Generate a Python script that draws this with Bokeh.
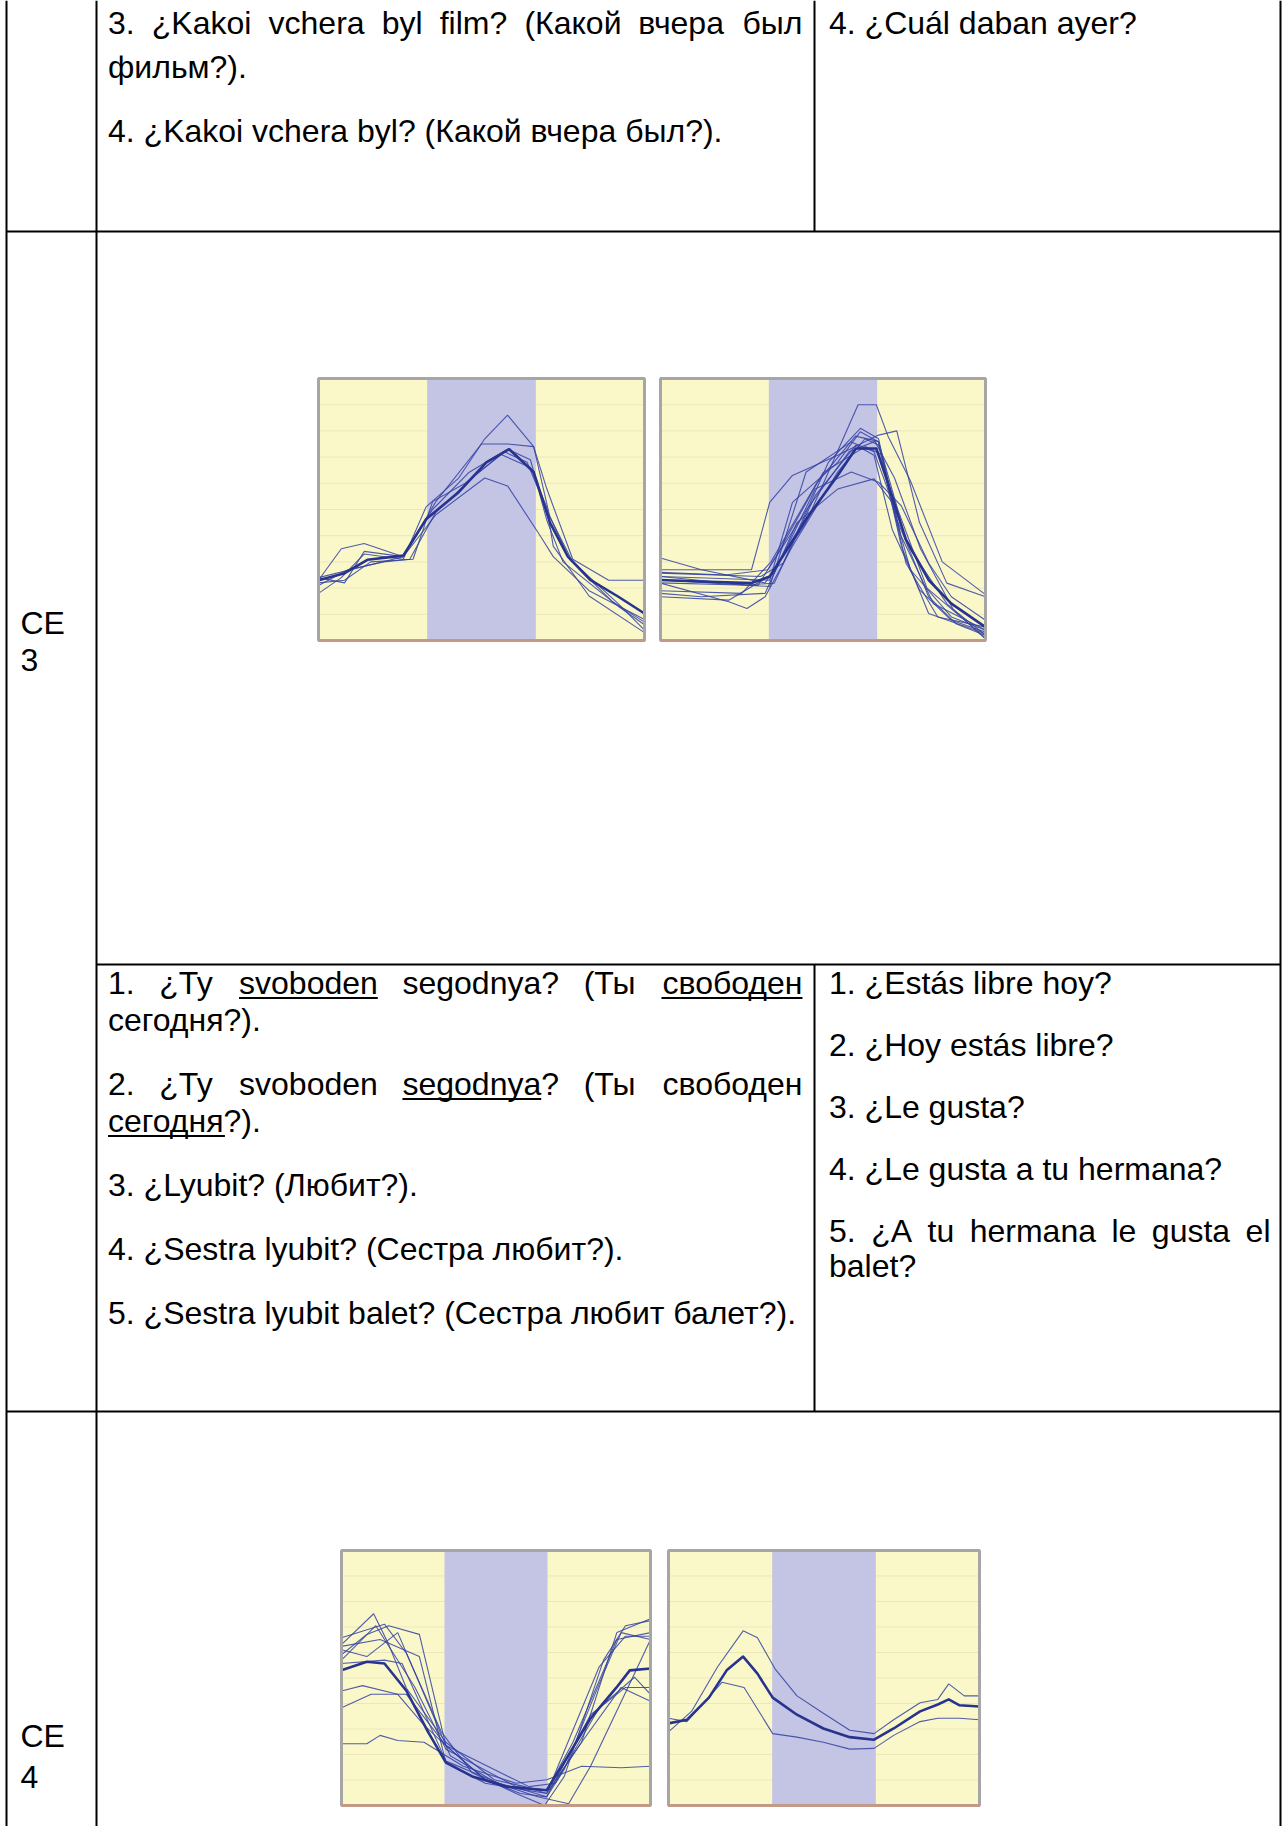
from bokeh.plotting import figure
from bokeh.models import Range1d, ColumnDataSource
from bokeh.core.properties import value
from bokeh.embed import file_html
from bokeh.resources import INLINE

# ------------------------------------------------------------------ text content
top_ru_lines = ["3. ¿Kakoi vchera byl film? (Какой вчера был",
                "фильм?).",
                "4. ¿Kakoi vchera byl? (Какой вчера был?)."]
top_ru_justify = [True, False, False]
top_es_lines = ["4. ¿Cuál daban ayer?"]

ce3_ru_lines = ["1. ¿Ty svoboden segodnya? (Ты свободен",
                "сегодня?).",
                "2. ¿Ty svoboden segodnya? (Ты свободен",
                "сегодня?).",
                "3. ¿Lyubit? (Любит?).",
                "4. ¿Sestra lyubit? (Сестра любит?).",
                "5. ¿Sestra lyubit balet? (Сестра любит балет?)."]
ce3_ru_justify = [True, False, True, False, False, False, False]
ce3_ru_underline = [[(2, "svoboden"), (5, "свободен")], [], [(3, "segodnya")],
                    [(0, "сегодня")], [], [], []]

ce3_es_lines = ["1. ¿Estás libre hoy?", "2. ¿Hoy estás libre?", "3. ¿Le gusta?",
                "4. ¿Le gusta a tu hermana?", "5. ¿A tu hermana le gusta el", "balet?"]
ce3_es_justify = [False, False, False, False, True, False]

row_labels_ce3 = ["CE", "3"]
row_labels_ce4 = ["CE", "4"]

# ------------------------------------------------------------------ chart data (x: % of time, y: % of range)
BAND = [100 / 3, 200 / 3]
GRID_LEVELS = [10, 20, 30, 40, 50, 60, 70, 80, 90]

ce3_left_mean_x = [0, 8, 15, 26, 33, 43, 51.5, 58.5, 66, 71, 76.5, 83.5, 92, 100]
ce3_left_mean_y = [23, 25.7, 30.8, 32.4, 46.3, 56.6, 68, 73, 64.3, 45, 32, 23, 16.7, 10.3]
ce3_left_thin_x = [
    [0, 7, 14, 26, 33, 43, 51, 58, 66, 70, 78, 89, 100],
    [0, 7, 14, 26, 36, 50, 58, 66, 71, 78, 92, 100],
    [0, 8, 14, 26, 36, 51, 58, 68, 72, 83, 100],
    [0, 8, 16, 29, 35, 45, 56, 65, 70, 72, 83, 100],
    [0, 26, 35, 46, 58, 65, 70, 75, 92, 100],
    [0, 9, 20, 28, 36, 48, 57, 64, 70, 77, 90, 100],
]
ce3_left_thin_y = [
    [18, 24, 33, 31, 51, 62, 77, 86, 74, 58, 31, 23, 23],
    [23, 35, 37, 32, 53, 75, 75, 74, 47, 30, 14, 4],
    [24, 22, 34, 32, 48, 62, 59, 40, 32, 19, 8],
    [22, 23, 30, 31, 53, 60, 71, 66, 51, 36, 17, 3],
    [24, 32, 50, 64, 73, 69, 46, 30, 13, 6],
    [21, 27, 30, 31, 49, 63, 72, 68, 50, 31, 15, 7],
]

ce3_right_mean_x = [0, 12.6, 28, 33.6, 44.8, 54.5, 60.1, 66.4, 69.9, 75.5, 82.5, 89.5, 100]
ce3_right_mean_y = [23.1, 22.5, 21.9, 24.4, 46.3, 63, 73.3, 73.3, 60.4, 38.6, 23.1, 14.1, 5.1]
ce3_right_thin_x = [
    [0, 12.6, 32.2, 44.8, 60.8, 66.4, 70, 76.9, 86.7, 100],
    [0, 28, 33.6, 40.6, 54.5, 67.1, 72.7, 79.7, 88.1, 100],
    [0, 33.6, 40.6, 54.5, 61.5, 67.1, 75.5, 85.3, 100],
    [0, 21, 26.6, 32.2, 40.6, 54.5, 62.9, 67.1, 74.1, 82.5, 100],
    [0, 12.6, 32.2, 42, 54.5, 65.7, 71.3, 76.9, 88.1, 100],
    [0, 21, 35, 47.6, 58.7, 67.1, 74.1, 82.5, 89.5, 100],
    [0, 33.6, 44.8, 58.7, 65.7, 69.9, 76.9, 89.5, 100],
    [0, 30.8, 37.8, 51.7, 61.5, 67.1, 72.7, 82.5, 90.9, 100],
    [0, 26.6, 35, 47.6, 60.1, 65.7, 71.3, 79.7, 89.5, 100],
    [0, 20, 33, 45, 58, 66, 72, 80, 90, 100],
    [0, 25, 34, 48, 60, 67, 73, 82, 100],
    [0, 30, 36, 50, 63, 68, 74, 84, 100],
]
ce3_right_thin_y = [
    [31.5, 27, 22, 45, 90, 90, 78, 61, 30, 17.5],
    [27, 27, 52.7, 63, 70.7, 78.4, 80, 45, 21.9, 16.7],
    [24.4, 23, 52.7, 68, 79.7, 75.8, 29.6, 9, 5.1],
    [21.9, 14.8, 12.2, 16.7, 36, 64.3, 77, 74.6, 36, 10.3, 2.6],
    [18, 16.7, 18, 45, 57.8, 61.7, 52.7, 34.7, 14.1, 0.5],
    [16.7, 15.4, 25.7, 57.8, 64.3, 60.4, 51.4, 29.6, 16.7, 7.7],
    [23.1, 20.6, 64.3, 75.8, 72, 57.8, 27, 9, 3.9],
    [25.7, 24.4, 29.6, 68.1, 81, 77, 46.3, 16.7, 6.4, 1.9],
    [24.4, 21.2, 21.9, 55.3, 74.6, 70.7, 42.4, 19.3, 7.7, 3.2],
    [26, 25, 27, 50, 72, 76, 62, 35, 12, 2],
    [19, 18, 30, 60, 78, 76, 50, 20, 1],
    [22, 21, 33, 64, 74, 71, 40, 14, 4],
]

ce4_left_mean_x = [0, 8.2, 13.9, 21, 28, 33.8, 42.3, 53.6, 66.4, 72, 80.6, 89, 93.3, 100]
ce4_left_mean_y = [53, 56.4, 55.7, 45, 28.9, 16.8, 11.4, 7.4, 6, 16.8, 34.2, 46.3, 53, 53.7]
ce4_left_thin_x = [
    [0, 10.4, 15.3, 21, 33.8, 49.4, 59.3, 66.4, 77.7, 89.1, 100],
    [0, 8.2, 15.3, 25.2, 33.8, 46.5, 59.3, 66.4, 72.1, 83.4, 90.5, 100],
    [0, 13.9, 21, 32.3, 42.3, 56.5, 65.7, 72.1, 84.8, 91.9, 100],
    [0, 6.8, 18.2, 26.7, 33.8, 49.4, 60.7, 69.2, 83.4, 94.8, 100],
    [0, 9.6, 21, 33.8, 46.5, 57.9, 66.4, 80.6, 91.9, 100],
    [0, 8.2, 12.5, 18.2, 26.7, 39.4, 56.5, 66.4, 77.7, 90.5, 100],
    [0, 8.2, 18.2, 35.2, 52.2, 66.4, 74.9, 89.1, 100],
    [0, 13.9, 19.6, 33.8, 53.6, 63.5, 73.5, 80.6, 94.8, 100],
    [0, 12.5, 25.2, 33.8, 46.5, 66.4, 83.4, 91.9, 100],
    [0, 11.1, 23.8, 33.8, 56.5, 67.1, 77.7, 90.5, 100],
]
ce4_left_thin_y = [
    [63.1, 75.2, 63.1, 46, 24.8, 10.1, 7.4, 4.7, 24.8, 67.8, 73.2],
    [59.1, 67.1, 70.5, 67.1, 23.5, 10.1, 6, 3.4, 14.1, 47.7, 67.8, 65.1],
    [65.8, 71.1, 59.7, 28.9, 12.8, 4.7, 0, 11.4, 57, 70.5, 72.5],
    [44.9, 47, 43.6, 31.5, 23.5, 14.1, 7.4, 8.7, 38.3, 50.3, 43.6],
    [38.3, 43.6, 43.6, 23.5, 10.1, 4.7, 3.4, 35.6, 46.3, 46.3],
    [24.2, 24.2, 27.5, 25.5, 24.8, 15.4, 8.7, 10.1, 15.4, 14.8, 15.4],
    [61.1, 58.4, 67.8, 19.5, 7.4, 6, 24.8, 65.1, 67.8],
    [55.7, 57, 55.7, 17.4, 7.4, 3.4, 0.7, 15.4, 51.7, 65.1],
    [62.4, 65.1, 58.4, 16.8, 8.7, 4.7, 54.4, 66.4, 66.4],
    [57, 70.5, 46.3, 22.1, 7.4, 6, 24.8, 46.3, 40.9],
]

ce4_right_mean_x = [0, 5.9, 13, 18.7, 24, 28.6, 33.5, 41.3, 49.8, 58.3, 66.1, 72.4, 80.9, 86.6, 90.1, 93.6, 100]
ce4_right_mean_y = [32.2, 33.6, 42.3, 53, 58.4, 51.7, 42.3, 35.6, 30.2, 26.8, 25.8, 30.2, 36.9, 39.6, 41.6, 39.3, 38.8]
ce4_right_thin_x = [
    [0, 7.4, 15.8, 24, 28.6, 34.2, 41.3, 49.8, 58.3, 66.1, 72.4, 80.9, 86.6, 90.1, 95.1, 100],
    [0, 5.9, 17.2, 24.3, 33.5, 41.3, 49.8, 58.3, 66.1, 72.4, 80.9, 86.6, 93.6, 100],
]
ce4_right_thin_y = [
    [28.9, 36.9, 54.4, 68.5, 65.8, 53.7, 43, 36.2, 29.5, 28.2, 33.6, 40.3, 41.6, 47.7, 43, 43],
    [34.2, 32.9, 48.3, 46.3, 28.2, 26.8, 24.8, 22.1, 22.4, 27.5, 32.9, 34.2, 34.2, 33.6],
]

# ------------------------------------------------------------------ page layout (reference pixels)
FIG_W, FIG_H = 1285, 1826
X0, X1 = 0, FIG_W
Y0, Y1 = 0, FIG_H
FS = 32
FONT = "Liberation Sans"

COL_L, COL_A, COL_B, COL_R = 6, 96, 814, 1280
ROW_1, ROW_2, ROW_3 = 231, 964, 1411
TXT2_L, TXT2_R = 107.5, 802
TXT3_L, TXT3_R = 828.5, 1270

# vertical centre of the capitals of every text line
top_ru_mid = [22, 66, 130]
top_es_mid = [22]
ce3_ru_mid = [982, 1019, 1083, 1120, 1184, 1248, 1312]
ce3_es_mid = [982, 1044, 1106, 1168, 1230, 1265]
label_ce3_mid = [622, 659]
label_ce4_mid = [1735, 1776]
LABEL_X = 20
UNDERLINE_DROP = 15.5

chart_boxes = {
    "c1": (318, 644, 378, 640),
    "c2": (660, 985, 378, 640),
    "c3": (341, 650, 1550, 1805),
    "c4": (668, 979, 1550, 1805),
}

# Arial / Liberation Sans advance widths (per 1000 em)
W = {' ': 278, '.': 278, '?': 556, '¿': 611, '(': 333, ')': 333,
     'a': 556, 'b': 556, 'c': 500, 'd': 556, 'e': 556, 'f': 278, 'g': 556, 'h': 556,
     'i': 222, 'j': 222, 'k': 500, 'l': 222, 'm': 833, 'n': 556, 'o': 556, 'p': 556,
     'q': 556, 'r': 333, 's': 500, 't': 278, 'u': 556, 'v': 500, 'w': 722, 'x': 500,
     'y': 500, 'z': 500, 'á': 556, 'é': 556,
     'A': 667, 'C': 722, 'E': 667, 'H': 722, 'K': 667, 'L': 556, 'S': 667, 'T': 611,
     'К': 583, 'Л': 660, 'С': 722, 'Т': 611,
     'а': 556, 'б': 573, 'в': 531, 'г': 365, 'д': 583, 'е': 556, 'и': 559, 'й': 559,
     'к': 438, 'л': 583, 'м': 688, 'н': 552, 'о': 556, 'р': 556, 'с': 500, 'т': 458,
     'ф': 823, 'ч': 521, 'ы': 719, 'ь': 521, 'ю': 750, 'я': 542}
for d in "0123456789":
    W[d] = 556


def tw(s):
    return sum(W.get(c, 556) for c in s) * FS / 1000.0


# ------------------------------------------------------------------ figure
p = figure(width=FIG_W, height=FIG_H, x_range=Range1d(X0, X1), y_range=Range1d(Y1, Y0),
           output_backend="svg", toolbar_location=None, min_border=0,
           x_axis_location=None, y_axis_location=None)
p.grid.visible = False
p.outline_line_color = None
p.background_fill_color = "white"
p.border_fill_color = "white"

# table rules
p.segment(x0=[COL_L, COL_A, COL_B, COL_B, COL_R, COL_L, COL_A, COL_L],
          x1=[COL_L, COL_A, COL_B, COL_B, COL_R, COL_R, COL_R, COL_R],
          y0=[Y0, Y0, Y0, ROW_2, Y0, ROW_1, ROW_2, ROW_3],
          y1=[Y1, Y1, ROW_1, ROW_3, Y1, ROW_1, ROW_2, ROW_3],
          line_color="black", line_width=2)

# text
words_x, words_y, words_t, words_a = [], [], [], []
ul_x0, ul_x1, ul_y = [], [], []


def add_block(lines, mids, justify, left, right, underlines=None):
    for i, (txt, mid) in enumerate(zip(lines, mids)):
        words = txt.split(" ")
        if justify[i] and len(words) > 1:
            widths = [tw(w) for w in words]
            gap = (right - left - sum(widths)) / (len(words) - 1)
            starts = []
            x = left
            for w in widths:
                starts.append(x)
                x += w + gap
            starts[-1] = right - widths[-1]
            for j, w in enumerate(words):
                last = j == len(words) - 1
                words_x.append(right if last else starts[j])
                words_a.append("right" if last else "left")
                words_y.append(mid)
                words_t.append(w)
        else:
            starts = []
            x = left
            for w in words:
                starts.append(x)
                x += tw(w) + tw(" ")
            words_x.append(left)
            words_a.append("left")
            words_y.append(mid)
            words_t.append(txt)
        if underlines:
            for (j, sub) in underlines[i]:
                ul_x0.append(starts[j])
                ul_x1.append(starts[j] + tw(sub))
                ul_y.append(mid + UNDERLINE_DROP)


add_block(top_ru_lines, top_ru_mid, top_ru_justify, TXT2_L, TXT2_R)
add_block(top_es_lines, top_es_mid, [False], TXT3_L, TXT3_R)
add_block(ce3_ru_lines, ce3_ru_mid, ce3_ru_justify, TXT2_L, TXT2_R, ce3_ru_underline)
add_block(ce3_es_lines, ce3_es_mid, ce3_es_justify, TXT3_L, TXT3_R)
add_block(row_labels_ce3, label_ce3_mid, [False, False], LABEL_X, COL_A)
add_block(row_labels_ce4, label_ce4_mid, [False, False], LABEL_X, COL_A)

src = ColumnDataSource(dict(x=words_x, y=words_y, t=words_t, a=words_a))
p.text(x="x", y="y", text="t", text_align="a", source=src, text_baseline="alphabetic",
       text_font=value(FONT), text_font_size=f"{FS}px", text_color="#000000")
p.segment(x0=ul_x0, x1=ul_x1, y0=ul_y, y1=ul_y, line_color="#000000", line_width=2)

# charts
chart_data = {
    "c1": (ce3_left_thin_x, ce3_left_thin_y, ce3_left_mean_x, ce3_left_mean_y),
    "c2": (ce3_right_thin_x, ce3_right_thin_y, ce3_right_mean_x, ce3_right_mean_y),
    "c3": (ce4_left_thin_x, ce4_left_thin_y, ce4_left_mean_x, ce4_left_mean_y),
    "c4": (ce4_right_thin_x, ce4_right_thin_y, ce4_right_mean_x, ce4_right_mean_y),
}

YELLOW = "#faf8c9"
PURPLE = "#c4c4e4"
GRIDC = "#ebe7bb"
THIN = "#3341a2"
THICK = "#27338e"
FRAME = "#a6a6a6"
AXISC = "#c39a88"

for name, (bx0, bx1, by0, by1) in chart_boxes.items():
    sx = (bx1 - bx0) / 100.0
    sy = (by1 - by0) / 100.0
    p.extra_x_ranges[name + "x"] = Range1d((X0 - bx0) / sx, (X1 - bx0) / sx)
    p.extra_y_ranges[name + "y"] = Range1d((by1 - Y1) / sy, (by1 - Y0) / sy)
    kw = dict(x_range_name=name + "x", y_range_name=name + "y")
    tx, ty, mx, my = chart_data[name]
    p.quad(left=[0], right=[100], bottom=[0], top=[100], fill_color=YELLOW,
           line_color=None, **kw)
    p.segment(x0=[0] * len(GRID_LEVELS), x1=[100] * len(GRID_LEVELS),
              y0=GRID_LEVELS, y1=GRID_LEVELS, line_color=GRIDC, line_width=1, **kw)
    p.quad(left=[BAND[0]], right=[BAND[1]], bottom=[0], top=[100], fill_color=PURPLE,
           line_color=None, **kw)
    p.multi_line(xs=tx, ys=ty, line_color=THIN, line_width=1.1, line_alpha=0.85, **kw)
    p.line(x=mx, y=my, line_color=THICK, line_width=2.6, line_join="round", **kw)
    p.quad(left=[0], right=[100], bottom=[0], top=[100], fill_color=None,
           line_color=FRAME, line_width=3, **kw)
    p.segment(x0=[0], x1=[100], y0=[0], y1=[0], line_color=AXISC, line_width=3, **kw)

open("out.html", "w").write(file_html(p, INLINE))
